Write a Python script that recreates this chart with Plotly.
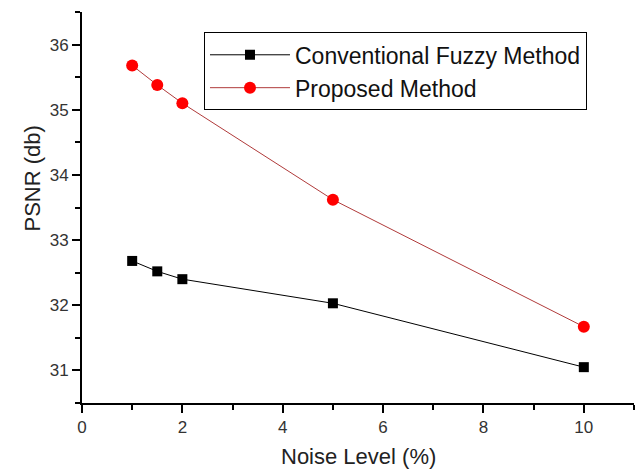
import plotly.graph_objects as go

noise = [1, 1.5, 2, 5, 10]
conventional = [32.68, 32.52, 32.40, 32.03, 31.05]
proposed = [35.68, 35.38, 35.10, 33.62, 31.67]

FONT = "Arial, Liberation Sans, sans-serif"

fig = go.Figure()
fig.add_trace(go.Scatter(
    x=noise, y=conventional, mode="lines+markers",
    name="Conventional Fuzzy Method",
    line=dict(color="#000000", width=1),
    marker=dict(symbol="square", size=10, color="#000000"),
))
fig.add_trace(go.Scatter(
    x=noise, y=proposed, mode="lines+markers",
    name="Proposed Method",
    line=dict(color="#b03a3a", width=1),
    marker=dict(symbol="circle", size=12, color="#ff0000"),
))

axis_common = dict(
    showline=True, linecolor="#000000", linewidth=2,
    ticks="outside", ticklen=8, tickwidth=1.5, tickcolor="#000000",
    showgrid=False, zeroline=False, mirror=False, automargin=False,
    tickfont=dict(family=FONT, size=17, color="#333333"),
)

fig.update_xaxes(
    range=[0, 11], dtick=2, tick0=0,
    minor=dict(dtick=1, ticks="outside", ticklen=5, tickwidth=1.5, tickcolor="#000000"),
    **axis_common,
)
fig.update_yaxes(
    range=[30.5, 36.5], dtick=1, tick0=0,
    minor=dict(dtick=0.5, ticks="outside", ticklen=5, tickwidth=1.5, tickcolor="#000000"),
    **axis_common,
)

fig.add_annotation(
    text="Noise Level (%)", showarrow=False,
    xref="paper", yref="paper", x=0.5, y=-0.138,
    xanchor="center", yanchor="middle",
    font=dict(family=FONT, size=22, color="#222222"),
)
fig.add_annotation(
    text="PSNR (db)", textangle=-90, showarrow=False,
    xref="paper", yref="paper", x=-0.09, y=0.575,
    xanchor="center", yanchor="middle",
    font=dict(family=FONT, size=22, color="#222222"),
)

# page body has an 8px default margin, so the figure is 8px smaller
fig.update_layout(
    width=636, height=462,
    margin=dict(l=74, r=10, t=4, b=67),
    paper_bgcolor="white", plot_bgcolor="white",
    showlegend=True,
    legend=dict(
        x=0.221, y=0.948, xanchor="left", yanchor="top",
        bgcolor="white", bordercolor="#000000", borderwidth=1,
        font=dict(family=FONT, size=23, color="#111111"),
        itemwidth=80, tracegroupgap=0,
    ),
)

fig.write_html("out.html")
